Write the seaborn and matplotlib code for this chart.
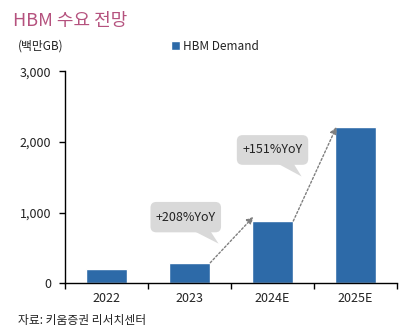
import matplotlib
matplotlib.use("Agg")
import matplotlib.pyplot as plt
import seaborn as sns
import pandas as pd
from matplotlib.patches import FancyBboxPatch, Polygon

years = ["2022", "2023", "2024E", "2025E"]
demand = [200, 290, 880, 2210]
yoy_labels = ["+208%YoY", "+151%YoY"]
yticks = [0, 1000, 2000, 3000]

sns.set_theme(style="white")
plt.rcParams["font.family"] = ["Noto Sans CJK KR", "DejaVu Sans"]

BLUE = "#2D6AA8"
TXT = "#222222"

df = pd.DataFrame({"year": years, "demand": demand})

fig = plt.figure(figsize=(4.06, 3.34), dpi=100)
ax = fig.add_axes([0.160, 0.152, 0.818, 0.635])

sns.barplot(data=df, x="year", y="demand", color=BLUE, width=0.5,
            saturation=1, ax=ax, label="HBM Demand")

ax.set_xlim(-0.5, 3.5)
ax.set_ylim(0, 3000)
ax.set_yticks(yticks)
ax.set_yticklabels([f"{v:,}" for v in yticks], fontsize=9, color=TXT)
ax.set_xticks(range(len(years)))
ax.set_xticklabels(years, fontsize=9, color=TXT)
ax.set_xticks([i - 0.5 for i in range(len(years) + 1)], minor=True)
ax.tick_params(axis="x", which="major", length=0, pad=6)
ax.tick_params(axis="x", which="minor", length=4, width=1, color="black", direction="out", bottom=True)
ax.tick_params(axis="y", length=4, width=1, color="black", direction="out", left=True, pad=6)
ax.set_xlabel("")
ax.set_ylabel("")
for s in ["top", "right"]:
    ax.spines[s].set_visible(False)
for s in ["left", "bottom"]:
    ax.spines[s].set_color("black")
    ax.spines[s].set_linewidth(1)

# growth arrows between bars
half = 0.25
for i in (1, 2):
    ax.annotate("", xy=(i + 1 - half + 0.02, demand[i + 1] + (60 if i == 1 else 0)),
                xytext=(i + half, demand[i]),
                arrowprops=dict(arrowstyle="-|>", linestyle=(0, (1.5, 1.5)),
                                color="#7F7F7F", lw=1, mutation_scale=10,
                                shrinkA=0, shrinkB=0))

# speech bubbles
def bubble(x0, x1, y0, y1, tail, text):
    box = FancyBboxPatch((x0, y0), x1 - x0, y1 - y0,
                         boxstyle="round,pad=0,rounding_size=0.07",
                         mutation_aspect=1000 / 0.85,
                         facecolor="#D9D9D9", edgecolor="none", zorder=3)
    ax.add_patch(box)
    ax.add_patch(Polygon(tail, closed=True, facecolor="#D9D9D9",
                         edgecolor="none", zorder=3))
    ax.text((x0 + x1) / 2, (y0 + y1) / 2, text, ha="center", va="center",
            fontsize=9, color=TXT, zorder=4)

bubble(0.53, 1.38, 720, 1150,
       [(1.05, 740), (1.25, 740), (1.35, 560)], yoy_labels[0])
bubble(1.57, 2.43, 1675, 2095,
       [(2.05, 1700), (2.25, 1700), (2.35, 1510)], yoy_labels[1])

# titles and notes
fig.text(0.032, 0.938, "HBM 수요 전망", fontsize=13, color="#B5527E",
         ha="left", va="center")
fig.text(0.045, 0.862, "(백만GB)", fontsize=8.5, color=TXT, ha="left", va="center")
fig.text(0.045, 0.040, "자료: 키움증권 리서치센터", fontsize=8.5, color=TXT,
         ha="left", va="center")

leg = ax.legend(loc="center", bbox_to_anchor=(0.53, 0.862),
                bbox_transform=fig.transFigure, frameon=False, fontsize=8.5,
                handlelength=0.7, handleheight=0.7, handletextpad=0.3,
                borderpad=0)
for t in leg.get_texts():
    t.set_color(TXT)

fig.savefig("out.png", dpi=100)
